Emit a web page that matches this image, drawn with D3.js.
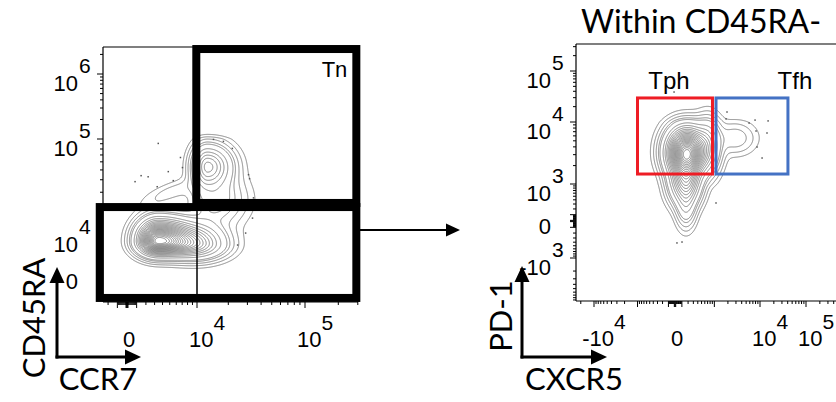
<!DOCTYPE html>
<html><head><meta charset="utf-8">
<script src="https://cdn.jsdelivr.net/npm/d3@7"></script>
<style>body{margin:0;background:#fff} svg{display:block}</style>
</head><body><svg id="c" width="836" height="402"></svg>
<script>
// ================= DATA =================
// Left panel: CCR7 (x) vs CD45RA (y)
const leftXTicks = [0, 1e4, 1e5];
const leftXTickLabels = ["0", "10^4", "10^5"];
const leftYTicks = [0, 1e4, 1e5, 1e6];
const leftYTickLabels = ["0", "10^4", "10^5", "10^6"];
// population components (centre values + spreads in decades)
const leftPopCCR7    = [3450, 9630, 12700, 15100, 5390];
const leftPopCD45RA  = [8210, 7390, 53900, 25100, 30300];
const leftPopWeight  = [1, 0.3, 0.3, 0.07, 0.015];
const leftPopSdXLow  = [0.10, 0.15, 0.075, 0.12, 0.16];
const leftPopSdXHigh = [0.17, 0.15, 0.12, 0.15, 0.16];
const leftPopSdYLow  = [0.075, 0.08, 0.12, 0.14, 0.08];
const leftPopSdYHigh = [0.11, 0.11, 0.115, 0.14, 0.08];
const leftPopCorr    = [0, 0, 0, 0, 0.7];
const leftOutCCR7   = [3450, 835, 1475, 2250, 3320, 4790, 5530, 6700, 7050, 14500, 18000, 21800, 30700, 31400, 34100, 33400, 28900, 24400];
const leftOutCD45RA = [90600, 38300, 43900, 42800, 34100, 48100, 39200, 66100, 52700, 99100, 94800, 81000, 44900, 41000, 26300, 16000, 10600, 7130];
const tnGateCCR7 = [9840, 291000], tnGateCD45RA = [23300, 2420000];
const raNegGateCCR7 = [-2960, 291000], raNegGateCD45RA = [-4860, 21100];
const quadCCR7 = 10000;
const leftGateLabel = "Tn";

// Right panel: CXCR5 (x) vs PD-1 (y), within CD45RA-
const rightXTicks = [-1e4, 0, 1e4, 1e5];
const rightXTickLabels = ["-10^4", "0", "10^4", "10^5"];
const rightYTicks = [-1e3, 0, 1e3, 1e4, 1e5];
const rightYTickLabels = ["-10^3", "0", "10^3", "10^4", "10^5"];
const rightPopCXCR5  = [182, 165, 165, 2860, 716];
const rightPopPD1    = [3300, 1260, 278, 5540, 4290];
const rightPopWeight = [1, 0.45, 0.1, 0.035, 0.16];
const rightPopSdXLow  = [0.25, 0.20, 0.12, 0.26, 0.16];
const rightPopSdXHigh = [0.24, 0.18, 0.12, 0.26, 0.16];
const rightPopSdYLow  = [0.20, 0.30, 0.28, 0.15, 0.25];
const rightPopSdYHigh = [0.22, 0.25, 0.28, 0.15, 0.25];
const rightPopCorr    = [0, 0, 0, 0, 0];
const rightOutCXCR5 = [-14, 1910, 1820, 5790, 7810, 15000, 8210, 14200, 11100, 8630, 1090, 28, 102];
const rightOutPD1   = [38700, 15700, 11500, 9630, 10900, 10500, 7180, 6670, 2650, 3980, 323, -420, -396];
const tphGateCXCR5 = [-1000, 907], tphGatePD1 = [1460, 29600];
const tfhGateCXCR5 = [1090, 40500], tfhGatePD1 = [1460, 29600];
const title = "Within CD45RA-";

// ================= SCALES (biexponential-like) =================
function biex(w, knots, px) {
  const T = v => Math.asinh(v / w) / Math.LN10;
  const s = d3.scaleLinear().domain(knots.map(T)).range(px);
  const f = v => s(T(v));
  f.T = T; f.s = s;
  return f;
}
const L = {x0: 103, x1: 358, y0: 47, y1: 302};
const R = {x0: 576, x1: 836, y0: 44, y1: 301};
const lx = biex(5000, leftXTicks, [127, 197, 305]);
const ly = biex(9500, leftYTicks, [276, 235, 139, 74]);
const rx = biex(285, rightXTicks, [594, 675, 760, 806]);
const ry = biex(300, rightYTicks, [258, 221, 184, 122, 71]);

const svg = d3.select("#c");
const tickFont = "'Liberation Sans', Arial, sans-serif";
const titleFont = "Lato, 'Open Sans', sans-serif";

// ================= CONTOURS =================
const levels = [0.004, 0.01, 0.02, 0.035].concat(d3.range(0.05, 0.96, 0.045));
function drawContours(xs, ys, box, pop, clipId) {
  const nx = box.x1 - box.x0, ny = box.y1 - box.y0;
  const vals = new Float64Array(nx * ny);
  const cx = pop.x.map(xs.T), cy = pop.y.map(ys.T);
  for (let j = 0; j < ny; j++) {
    const ty = ys.s.invert(box.y0 + j + 0.5);
    for (let i = 0; i < nx; i++) {
      const tx = xs.s.invert(box.x0 + i + 0.5);
      let d = 0;
      for (let k = 0; k < cx.length; k++) {
        let dx = tx - cx[k], dy = ty - cy[k];
        dx /= dx < 0 ? pop.sxl[k] : pop.sxh[k];
        dy /= dy < 0 ? pop.syl[k] : pop.syh[k];
        const r = pop.rho[k];
        const q = (dx * dx - 2 * r * dx * dy + dy * dy) / (1 - r * r);
        d += pop.w[k] * Math.exp(-0.5 * q);
      }
      vals[j * nx + i] = d;
    }
  }
  const mx = d3.max(vals);
  for (let i = 0; i < vals.length; i++) vals[i] /= mx;
  const cs = d3.contours().size([nx, ny]).thresholds(levels)(vals);
  const path = d3.geoPath(d3.geoIdentity().translate([box.x0, box.y0]));
  svg.append("clipPath").attr("id", clipId).append("rect")
    .attr("x", box.x0).attr("y", box.y0).attr("width", nx).attr("height", ny);
  svg.append("g").attr("clip-path", `url(#${clipId})`)
    .selectAll("path").data(cs).join("path")
    .attr("d", path).attr("fill", "none")
    .attr("stroke", "#7a7a7a").attr("stroke-width", 0.9);
}
drawContours(lx, ly, L, {x: leftPopCCR7, y: leftPopCD45RA, w: leftPopWeight,
  sxl: leftPopSdXLow, sxh: leftPopSdXHigh, syl: leftPopSdYLow, syh: leftPopSdYHigh, rho: leftPopCorr}, "clipL");
drawContours(rx, ry, R, {x: rightPopCXCR5, y: rightPopPD1, w: rightPopWeight,
  sxl: rightPopSdXLow, sxh: rightPopSdXHigh, syl: rightPopSdYLow, syh: rightPopSdYHigh, rho: rightPopCorr}, "clipR");

// outlier dots
function dots(xs, ys, xv, yv) {
  svg.append("g").selectAll("rect").data(xv).join("rect")
    .attr("x", (d, i) => xs(d) - 0.75).attr("y", (d, i) => ys(yv[i]) - 0.75)
    .attr("width", 1.5).attr("height", 1.5).attr("fill", "#555");
}
dots(lx, ly, leftOutCCR7, leftOutCD45RA);
dots(rx, ry, rightOutCXCR5, rightOutPD1);

// ================= AXES / FRAMES =================
function minorVals(xs, lo, hi) {
  const out = [0];
  for (const k of [10, 100, 1000, 1e4, 1e5, 1e6])
    for (let m = 1; m <= 9; m++) for (const s of [1, -1]) out.push(s * m * k);
  return out.filter(v => { const p = xs(v); return p >= lo - 0.5 && p <= hi + 0.5; });
}
const isMajor = v => v === 0 || Math.abs(Math.log10(Math.abs(v)) % 1) < 1e-9;
function frame(box, openRight) {
  const g = svg.append("g").attr("stroke", "#000").attr("stroke-width", 1.2).attr("fill", "none");
  g.append("line").attr("x1", box.x0).attr("x2", box.x1).attr("y1", box.y0).attr("y2", box.y0);
  g.append("line").attr("x1", box.x0).attr("x2", box.x1).attr("y1", box.y1).attr("y2", box.y1);
  g.append("line").attr("x1", box.x0).attr("x2", box.x0).attr("y1", box.y0).attr("y2", box.y1);
  if (!openRight) g.append("line").attr("x1", box.x1).attr("x2", box.x1).attr("y1", box.y0).attr("y2", box.y1);
}
function ticks(xs, ys, box) {
  const g = svg.append("g").attr("stroke", "#000").attr("stroke-width", 1);
  minorVals(xs, box.x0, box.x1).forEach(v => {
    const p = xs(v), len = isMajor(v) ? 6 : 3;
    g.append("line").attr("x1", p).attr("x2", p).attr("y1", box.y1).attr("y2", box.y1 + len);
  });
  minorVals(v => ys(v), box.y0, box.y1).forEach(v => {
    const p = ys(v), len = isMajor(v) ? 6 : 3;
    g.append("line").attr("y1", p).attr("y2", p).attr("x1", box.x0).attr("x2", box.x0 - len);
  });
}
function tickLabels(xs, ys, box, xt, xl, yt, yl) {
  const g = svg.append("g").attr("font-family", tickFont).attr("fill", "#000");
  xt.forEach((v, i) => {
    const [base, sup] = xl[i].split("^");
    const t = g.append("text").attr("font-size", 22)
      .attr("x", xs(v) + (sup ? 10 : 2)).attr("y", box.y1 + 45).attr("text-anchor", "middle");
    t.append("tspan").text(base);
    if (sup) t.append("tspan").attr("dy", -17).attr("font-size", 21).text(sup);
  });
  yt.forEach((v, i) => {
    const [base, sup] = yl[i].split("^");
    const p = ys(v);
    g.append("text").attr("font-size", 22).attr("text-anchor", "end")
      .attr("x", box.x0 - 25).attr("y", p + (sup ? 17 : 12.5)).text(base);
    if (sup) g.append("text").attr("font-size", 21).attr("text-anchor", "start")
      .attr("x", box.x0 - 24).attr("y", p - 1.5).text(sup);
  });
}
frame(L, false); ticks(lx, ly, L);
tickLabels(lx, ly, L, leftXTicks, leftXTickLabels, leftYTicks, leftYTickLabels);
frame(R, true); ticks(rx, ry, R);
tickLabels(rx, ry, R, rightXTicks, rightXTickLabels, rightYTicks, rightYTickLabels);

// ================= GATES =================
function gate(xs, ys, gx, gy, color, sw) {
  const x0 = xs(gx[0]), x1 = xs(gx[1]), y0 = ys(gy[1]), y1 = ys(gy[0]);
  svg.append("rect").attr("x", x0).attr("y", y0).attr("width", x1 - x0).attr("height", y1 - y0)
    .attr("fill", "none").attr("stroke", color).attr("stroke-width", sw);
}
// quadrant line
svg.append("line").attr("x1", lx(quadCCR7)).attr("x2", lx(quadCCR7))
  .attr("y1", ly(tnGateCD45RA[0])).attr("y2", ly(raNegGateCD45RA[0]))
  .attr("stroke", "#000").attr("stroke-width", 1.5);
gate(lx, ly, raNegGateCCR7, raNegGateCD45RA, "#000", 8);
gate(lx, ly, tnGateCCR7, tnGateCD45RA, "#000", 8);
gate(rx, ry, tphGateCXCR5, tphGatePD1, "#ee1c25", 3);
gate(rx, ry, tfhGateCXCR5, tfhGatePD1, "#4472c4", 3);

const lab = svg.append("g").attr("font-family", tickFont).attr("fill", "#000");
lab.append("text").attr("x", lx(tnGateCCR7[1]) - 9).attr("y", ly(tnGateCD45RA[1]) + 28)
  .attr("text-anchor", "end").attr("font-size", 22).text(leftGateLabel);
lab.append("text").attr("x", (rx(tphGateCXCR5[0]) + rx(tphGateCXCR5[1])) / 2 - 6).attr("y", ry(tphGatePD1[1]) - 9)
  .attr("text-anchor", "middle").attr("font-size", 24).text("Tph");
lab.append("text").attr("x", rx(tfhGateCXCR5[1]) + 7).attr("y", ry(tfhGatePD1[1]) - 9)
  .attr("text-anchor", "middle").attr("font-size", 24).text("Tfh");

// ================= ARROWS & TITLES =================
const ar = svg.append("g").attr("fill", "#000").attr("stroke", "#000");
function arrowLine(x1, y1, x2, y2, sw, head, half) {
  const dx = x2 - x1, dy = y2 - y1, len = Math.hypot(dx, dy), ux = dx / len, uy = dy / len;
  const bx = x2 - ux * head, by = y2 - uy * head;
  ar.append("line").attr("x1", x1).attr("y1", y1).attr("x2", bx).attr("y2", by).attr("stroke-width", sw);
  ar.append("path").attr("stroke", "none")
    .attr("d", `M${x2},${y2}L${bx - uy * half},${by + ux * half}L${bx + uy * half},${by - ux * half}Z`);
}
// connector arrow
arrowLine(L.x1 + 2, 230, 460, 230, 2, 14, 6.5);
// left axis arrows
arrowLine(57, 358.5, 57, 267, 3, 16, 7.5);
arrowLine(55.5, 357, 141, 357, 3, 16, 7.5);
// right axis arrows
arrowLine(522, 358.5, 522, 266, 3, 16, 7.5);
arrowLine(520.5, 357, 607, 357, 3, 16, 7.5);

const tt = svg.append("g").attr("font-family", titleFont).attr("fill", "#000");
tt.append("text").attr("x", 701).attr("y", 33).attr("text-anchor", "middle").attr("font-size", 32).text(title);
tt.append("text").attr("x", 98).attr("y", 390).attr("text-anchor", "middle").attr("font-size", 31).text("CCR7");
tt.append("text").attr("x", 574).attr("y", 390).attr("text-anchor", "middle").attr("font-size", 31).text("CXCR5");
tt.append("text").attr("transform", "translate(45,318) rotate(-90)").attr("text-anchor", "middle").attr("font-size", 31).text("CD45RA");
tt.append("text").attr("transform", "translate(512,316) rotate(-90)").attr("text-anchor", "middle").attr("font-size", 31).text("PD-1");
</script></body></html>
